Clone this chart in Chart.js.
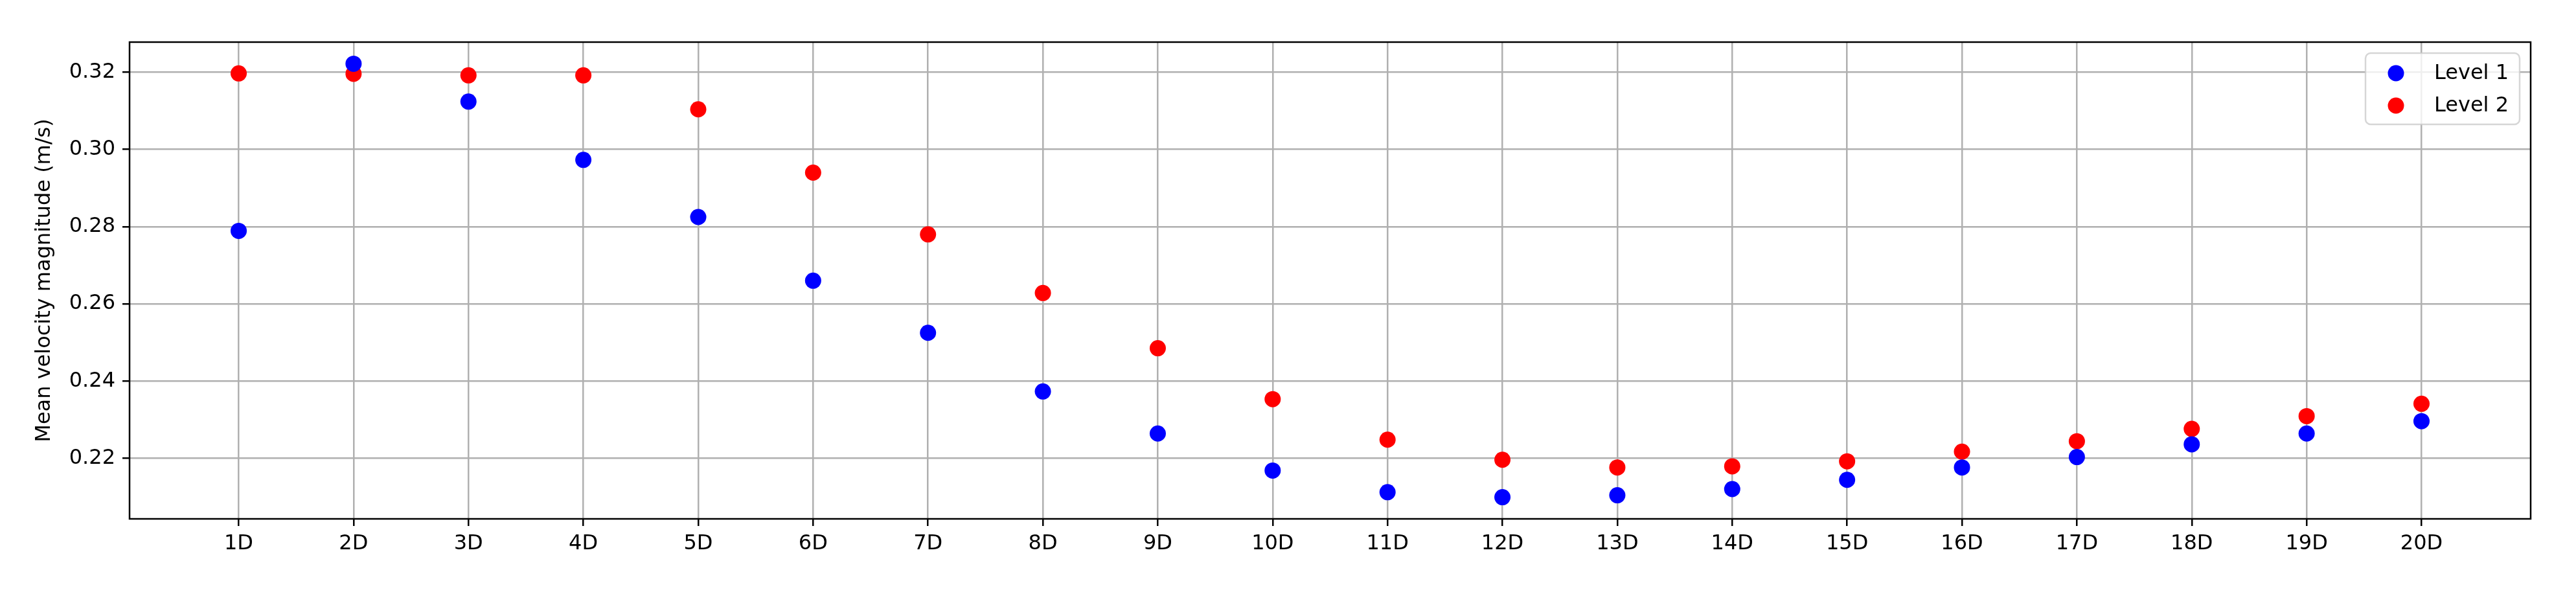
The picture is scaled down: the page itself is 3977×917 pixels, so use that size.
<!DOCTYPE html>
<html lang="en">
<head>
  <meta charset="UTF-8">
  <title>Mean velocity magnitude</title>
  <script src="https://cdn.jsdelivr.net/npm/chart.js"></script>
  <style>
    body {
      margin: 0;
      background-color: #ffffff;
    }
    #chartBox {
      width: 3977px;
      height: 917px;
    }
  </style>
</head>
<body>
  <div id="chartBox">
    <canvas id="velocityChart" width="3977" height="917"></canvas>
  </div>

  <script>
    const categories = ["1D", "2D", "3D", "4D", "5D", "6D", "7D", "8D", "9D", "10D",
                        "11D", "12D", "13D", "14D", "15D", "16D", "17D", "18D", "19D", "20D"];
    const level1 = [0.2789, 0.3222, 0.3124, 0.2973, 0.2825, 0.2660, 0.2525, 0.2373, 0.2264, 0.2168,
                    0.2112, 0.2099, 0.2104, 0.2120, 0.2144, 0.2176, 0.2203, 0.2236, 0.2264, 0.2296];
    const level2 = [0.3197, 0.3196, 0.3192, 0.3192, 0.3104, 0.2940, 0.2780, 0.2628, 0.2485, 0.2353,
                    0.2248, 0.2196, 0.2176, 0.2179, 0.2192, 0.2217, 0.2244, 0.2276, 0.2309, 0.2341];
    const yTicks = [0.22, 0.24, 0.26, 0.28, 0.30, 0.32];
    const seriesNames = ["Level 1", "Level 2"];
    const seriesColors = ["#0000ff", "#ff0000"];

    const FONT = "'DejaVu Sans', sans-serif";

    // matplotlib style 5% margins around the data
    const allY = level1.concat(level2);
    const yLo = Math.min(...allY), yHi = Math.max(...allY);
    const yPad = (yHi - yLo) * 0.05;
    const xPad = (categories.length - 1) * 0.05;

    function toPoints(values) {
      return values.map((v, i) => ({ x: i + 1, y: v }));
    }

    // black frame round the plot area (spines)
    const framePlugin = {
      id: "frame",
      afterDraw(chart) {
        const { ctx, chartArea: a } = chart;
        ctx.save();
        ctx.strokeStyle = "#000000";
        ctx.lineWidth = 2.5;
        ctx.strokeRect(a.left, a.top, a.right - a.left, a.bottom - a.top);
        ctx.restore();
      }
    };

    // legend box in the upper right corner, inside the axes
    const legendPlugin = {
      id: "insideLegend",
      afterDraw(chart) {
        const { ctx, chartArea: a } = chart;
        const w = 238, h = 110;
        const x = a.right - 17 - w, y = a.top + 17;
        ctx.save();
        ctx.beginPath();
        ctx.roundRect(x, y, w, h, 8);
        ctx.fillStyle = "rgba(255,255,255,0.8)";
        ctx.fill();
        ctx.strokeStyle = "rgba(204,204,204,0.8)";
        ctx.lineWidth = 2.5;
        ctx.stroke();
        chart.data.datasets.forEach((ds, i) => {
          const rowY = y + 31 + i * 50;
          ctx.beginPath();
          ctx.arc(x + 47, rowY, 12.5, 0, Math.PI * 2);
          ctx.fillStyle = ds.backgroundColor;
          ctx.fill();
          ctx.fillStyle = "#000000";
          ctx.font = "32px " + FONT;
          ctx.textBaseline = "middle";
          ctx.textAlign = "left";
          ctx.fillText(ds.label, x + 106, rowY + 1);
        });
        ctx.restore();
      }
    };

    new Chart(document.getElementById("velocityChart"), {
      type: "scatter",
      data: {
        datasets: [
          {
            label: seriesNames[0],
            data: toPoints(level1),
            backgroundColor: seriesColors[0],
            borderWidth: 0,
            pointRadius: 12.5
          },
          {
            label: seriesNames[1],
            data: toPoints(level2),
            backgroundColor: seriesColors[1],
            borderWidth: 0,
            pointRadius: 12.5
          }
        ]
      },
      options: {
        responsive: false,
        animation: false,
        devicePixelRatio: 1,
        layout: {
          padding: { top: 65, right: 70, left: 0, bottom: 0 }
        },
        plugins: {
          legend: { display: false },
          tooltip: { enabled: false }
        },
        scales: {
          x: {
            type: "linear",
            z: 1,
            min: 1 - xPad,
            max: categories.length + xPad,
            afterBuildTicks(scale) {
              scale.ticks = categories.map((c, i) => ({ value: i + 1 }));
            },
            afterFit(scale) {
              scale.height = 116;
            },
            grid: {
              color: "#b0b0b0",
              lineWidth: 2.5,
              tickColor: "#000000",
              tickLength: 11,
              tickWidth: 2.5
            },
            border: { display: false },
            ticks: {
              autoSkip: false,
              maxRotation: 0,
              padding: 8,
              color: "#000000",
              font: { family: FONT, size: 32 },
              callback: (value) => categories[value - 1]
            }
          },
          y: {
            z: 1,
            min: yLo - yPad,
            max: yHi + yPad,
            afterBuildTicks(scale) {
              scale.ticks = yTicks.map(v => ({ value: v }));
            },
            afterFit(scale) {
              scale.width = 200;
            },
            grid: {
              color: "#b0b0b0",
              lineWidth: 2.5,
              tickColor: "#000000",
              tickLength: 11,
              tickWidth: 2.5
            },
            border: { display: false },
            ticks: {
              padding: 11,
              color: "#000000",
              font: { family: FONT, size: 32 },
              callback: (value) => value.toFixed(2)
            },
            title: {
              display: true,
              text: "Mean velocity magnitude (m/s)",
              color: "#000000",
              font: { family: FONT, size: 32 },
              padding: { top: 49, bottom: 0 }
            }
          }
        }
      },
      plugins: [framePlugin, legendPlugin]
    });
  </script>
</body>
</html>
